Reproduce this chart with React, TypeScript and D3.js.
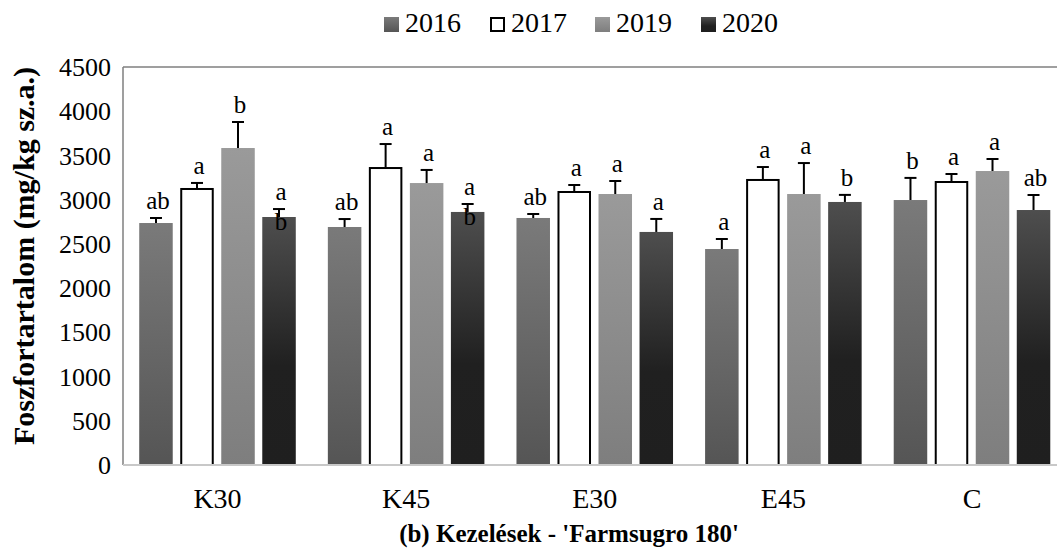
import React from 'react';
import * as d3 from 'd3';

const categories = ['K30', 'K45', 'E30', 'E45', 'C'];
const years = ['2016', '2017', '2019', '2020'];
const values2016 = [2736, 2691, 2793, 2442, 2996];
const values2017 = [3132, 3369, 3098, 3234, 3211];
const values2019 = [3584, 3188, 3064, 3064, 3324];
const values2020 = [2804, 2861, 2635, 2974, 2883];
const err2016 = [57, 90, 45, 113, 250];
const err2017 = [57, 260, 68, 135, 79];
const err2019 = [294, 148, 147, 350, 136];
const err2020 = [90, 90, 147, 80, 170];
const letters2016 = ['ab', 'ab', 'ab', 'a', 'b'];
const letters2017 = ['a', 'a', 'a', 'a', 'a'];
const letters2019 = ['b', 'a', 'a', 'a', 'a'];
const letters2020 = ['a\nb', 'a\nb', 'a', 'b', 'ab'];
const yTicks = [0, 500, 1000, 1500, 2000, 2500, 3000, 3500, 4000, 4500];
const yTitle = 'Foszfortartalom (mg/kg sz.a.)';
const xTitle = "(b) Kezelések - 'Farmsugro 180'";

const seriesValues = [values2016, values2017, values2019, values2020];
const seriesErr = [err2016, err2017, err2019, err2020];
const seriesLetters = [letters2016, letters2017, letters2019, letters2020];

const FONT = "'Liberation Serif', 'Times New Roman', Times, serif";

export default function App() {
  const W = 1057, H = 557;
  const left = 123, right = 1066.5, top = 67, bottom = 465;
  const x0 = d3.scaleBand<string>().domain(categories).range([left, right]).paddingInner(0.17).paddingOuter(0.086);
  const x1 = d3.scaleBand<string>().domain(years).range([0, x0.bandwidth()]).paddingInner(0.183).paddingOuter(0);
  const y = d3.scaleLinear().domain([0, 4500]).range([bottom, top]);
  const fills = ['url(#g2016)', '#ffffff', 'url(#g2019)', 'url(#g2020)'];
  const legendX = [384, 490, 595, 701];
  const ts = { fontFamily: FONT };

  return (
    <svg width={W} height={H} style={{ position: 'absolute', left: 0, top: 0, background: '#fff' }}>
      <defs>
        <linearGradient id="g2016" x1="0" y1="0" x2="0" y2="1">
          <stop offset="0" stopColor="#7a7a7a" />
          <stop offset="1" stopColor="#555555" />
        </linearGradient>
        <linearGradient id="g2019" x1="0" y1="0" x2="0" y2="1">
          <stop offset="0" stopColor="#9a9a9a" />
          <stop offset="1" stopColor="#7e7e7e" />
        </linearGradient>
        <linearGradient id="g2020" x1="0" y1="0" x2="0" y2="1">
          <stop offset="0" stopColor="#4e4e4e" />
          <stop offset="0.6" stopColor="#202020" />
          <stop offset="1" stopColor="#1f1f1f" />
        </linearGradient>
      </defs>
      <rect x={0} y={0} width={W} height={H} fill="#fff" />

      {/* legend */}
      {years.map((yr, i) => (
        <g key={yr}>
          <rect x={legendX[i] + (i === 1 ? 1 : 0)} y={17 + (i === 1 ? 1 : 0)} width={i === 1 ? 13 : 15} height={i === 1 ? 13 : 15}
            fill={fills[i]} stroke={i === 1 ? '#000' : 'none'} strokeWidth={2} />
          <text x={legendX[i] + 21} y={32} fontSize={28} fill="#000" style={ts}>{yr}</text>
        </g>
      ))}

      {/* frame */}
      <line x1={left} x2={W} y1={top} y2={top} stroke="#7f7f7f" strokeWidth={1.5} />
      <line x1={left} x2={left} y1={top} y2={bottom} stroke="#7f7f7f" strokeWidth={1.5} />

      {/* y ticks */}
      {yTicks.map(t => (
        <text key={t} x={111} y={y(t)} dy="0.35em" textAnchor="end" fontSize={26} fill="#000" style={ts}>{t}</text>
      ))}

      {/* bars */}
      {categories.map((c, ci) => (
        <g key={c} transform={`translate(${x0(c)},0)`}>
          {years.map((yr, si) => {
            const v = seriesValues[si][ci];
            const e = seriesErr[si][ci];
            const bx = x1(yr)!;
            const bw = x1.bandwidth();
            const cx = bx + bw / 2;
            const capY = y(v + e);
            const lines = seriesLetters[si][ci].split('\n');
            const isWhite = si === 1;
            return (
              <g key={yr}>
                <rect x={bx + (isWhite ? 1 : 0)} y={y(v) + (isWhite ? 1 : 0)} width={bw - (isWhite ? 2 : 0)} height={bottom - y(v) - (isWhite ? 1 : 0)}
                  fill={fills[si]} stroke={isWhite ? '#000' : 'none'} strokeWidth={2} />
                <line x1={cx} x2={cx} y1={y(v)} y2={capY} stroke="#000" strokeWidth={2} />
                <line x1={cx - 6} x2={cx + 6} y1={capY} y2={capY} stroke="#000" strokeWidth={2} />
                {lines.map((ln, li) => (
                  <text key={li} x={cx + 2} y={capY - 9 + li * 30} textAnchor="middle" fontSize={25} fill="#000" style={ts}>{ln}</text>
                ))}
              </g>
            );
          })}
        </g>
      ))}

      {/* x axis line */}
      <line x1={left} x2={W} y1={bottom} y2={bottom} stroke="#c8c8c8" strokeWidth={2} />

      {/* x labels */}
      {categories.map(c => (
        <text key={c} x={x0(c)! + x0.bandwidth() / 2} y={508} textAnchor="middle" fontSize={28} fill="#000" style={ts}>{c}</text>
      ))}

      <text x={569} y={542} textAnchor="middle" fontSize={25} fontWeight="bold" fill="#000" style={ts}>{xTitle}</text>
      <text transform={`translate(34,${(top + bottom) / 2 - 10}) rotate(-90)`} textAnchor="middle" fontSize={30} fontWeight="bold" fill="#000" style={ts}>{yTitle}</text>
    </svg>
  );
}
